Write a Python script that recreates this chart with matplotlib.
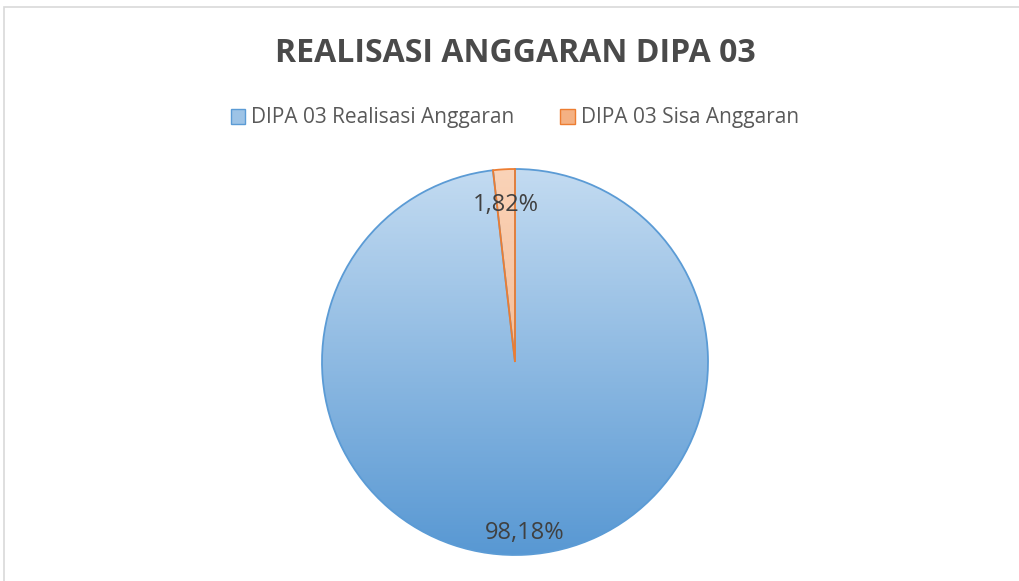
import numpy as np
import matplotlib.pyplot as plt
from matplotlib.patches import Rectangle, Patch
from matplotlib.colors import LinearSegmentedColormap

categories = ['DIPA 03 Realisasi Anggaran', 'DIPA 03 Sisa Anggaran']
values = [98.18, 1.82]

plt.rcParams['font.family'] = ['Open Sans', 'DejaVu Sans']

fig = plt.figure(figsize=(10.19, 5.81), dpi=100)
ax = fig.add_axes([0, 0, 1, 1])

# chart area border (cut off at right / bottom like the screenshot)
ax.add_patch(Rectangle((4, -20), 1100, 581 - 7 + 20, fill=False,
                       edgecolor='#d9d9d9', lw=1.2))

cx, cy, r = 515, 219, 193
grads = [('#c3dbf1', '#5898d3'), ('#fad3b8', '#f3a877')]
edges = ['#5b9bd5', '#ed7d31']

wedges, texts, autotexts = ax.pie(
    values, center=(cx, cy), radius=r, startangle=90, counterclock=False,
    autopct=lambda p: f'{p:.2f}%'.replace('.', ','), pctdistance=0.85,
    wedgeprops=dict(linewidth=1.3), textprops=dict(fontsize=17, color='#404040'),
    frame=True)
ax.set_xlim(0, 1019)
ax.set_ylim(0, 581)
ax.axis('off')

grad = np.linspace(0, 1, 256).reshape(-1, 1)
for w, (top, bot), ec in zip(wedges, grads, edges):
    w.set_facecolor('none')
    w.set_edgecolor(ec)
    w.set_zorder(3)
    cmap = LinearSegmentedColormap.from_list('g', [top, bot])
    im = ax.imshow(grad, cmap=cmap, aspect='auto',
                   extent=(cx - r, cx + r, cy - r, cy + r), origin='upper', zorder=2)
    im.set_clip_path(w)
for t in autotexts:
    x, y = t.get_position()
    t.set_position((x, y - 7))
    t.set_zorder(4)

ax.text(515, 581 - 54, 'REALISASI ANGGARAN DIPA 03', ha='center', va='center',
        fontsize=23, fontweight='bold', color='#4a4a4a')

handles = [Patch(facecolor=c, edgecolor=e, label=l)
           for c, e, l in zip(['#9dc3e6', '#f4b183'], edges, categories)]
ax.legend(handles=handles, loc='center', bbox_to_anchor=(515 / 1019, 1 - 118 / 581),
          ncol=2, frameon=False, fontsize=15, labelcolor='#595959',
          handlelength=0.7, handleheight=0.7, handletextpad=0.3, columnspacing=2.2)

fig.savefig('out.png', dpi=100)
